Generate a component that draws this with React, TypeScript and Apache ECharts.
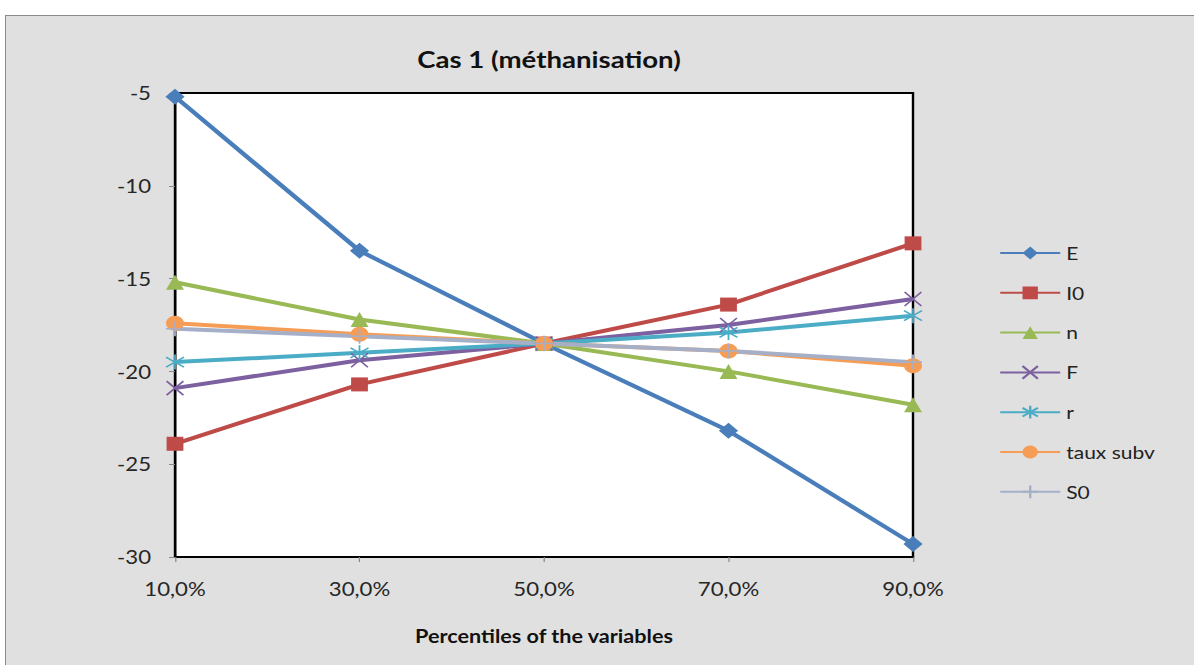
import React, { useEffect, useRef } from "react";
import * as echarts from "echarts";

const categories = ["10,0%", "30,0%", "50,0%", "70,0%", "90,0%"];
const seriesNames = ["E", "I0", "n", "F", "r", "taux subv", "S0"];
const valuesE = [-5.2, -13.5, -18.5, -23.2, -29.3];
const valuesI0 = [-23.9, -20.7, -18.5, -16.4, -13.1];
const valuesN = [-15.2, -17.2, -18.5, -20.0, -21.8];
const valuesF = [-20.9, -19.4, -18.5, -17.5, -16.1];
const valuesR = [-19.5, -19.0, -18.5, -17.9, -17.0];
const valuesTaux = [-17.4, -18.0, -18.5, -18.9, -19.7];
const valuesS0 = [-17.7, -18.1, -18.5, -18.9, -19.5];

const FONT = "Lato, 'DejaVu Sans', sans-serif";
// the reference picture is stretched horizontally; draw narrower and stretch back
const K = 1.2;
const W = 1194 / K;

export default function App() {
  const ref = useRef<HTMLDivElement>(null);
  useEffect(() => {
    if (!ref.current) return;
    const chart = echarts.init(ref.current, null, { renderer: "svg" });
    const defs = [
      { name: seriesNames[0], data: valuesE, color: "#4A7EBB", symbol: "diamond", size: 16, stroke: false },
      { name: seriesNames[1], data: valuesI0, color: "#BE4B48", symbol: "rect", size: 14, stroke: false },
      { name: seriesNames[2], data: valuesN, color: "#98B954", symbol: "triangle", size: 15, stroke: false },
      { name: seriesNames[3], data: valuesF, color: "#7D60A0", symbol: "path://M0,0L10,10M10,0L0,10", size: 14, stroke: true },
      { name: seriesNames[4], data: valuesR, color: "#4BACC6", symbol: "path://M0,1L10,9M10,1L0,9M5,-1L5,11", size: 15, stroke: true },
      { name: seriesNames[5], data: valuesTaux, color: "#F59D56", symbol: "circle", size: 15, stroke: false },
      { name: seriesNames[6], data: valuesS0, color: "#A5B0C8", symbol: "path://M5,0L5,10M0,5L10,5", size: 15, stroke: true },
    ];
    chart.setOption({
      animation: false,
      textStyle: { fontFamily: FONT },
      title: {
        text: "Cas 1 (méthanisation)",
        left: 543 / K,
        textAlign: "center",
        top: 42,
        textStyle: { fontFamily: FONT, fontSize: 23, fontWeight: "bold", color: "#111" },
      },
      legend: {
        orient: "vertical",
        left: 993 / K,
        top: 239,
        itemWidth: 60 / K,
        itemHeight: 16,
        itemGap: 21.8,
        textStyle: { fontFamily: FONT, fontSize: 17.5, color: "#222", lineHeight: 16 },
        data: seriesNames,
      },
      grid: {
        left: 175 / K,
        top: 93,
        width: 738 / K,
        height: 464,
        show: true,
        backgroundColor: "#FFFFFF",
        borderColor: "#000",
        borderWidth: 2,
      },
      xAxis: {
        type: "category",
        data: categories,
        boundaryGap: false,
        axisLine: { lineStyle: { color: "#000", width: 2 } },
        axisTick: { show: true, inside: false, length: 5, lineStyle: { color: "#888" } },
        axisLabel: { margin: 22, fontSize: 18.5, color: "#262626", fontFamily: FONT },
        splitLine: { show: false },
        name: "Percentiles of the variables",
        nameLocation: "middle",
        nameGap: 70,
        nameTextStyle: { fontFamily: FONT, fontSize: 18, fontWeight: "bold", color: "#111" },
      },
      yAxis: {
        type: "value",
        min: -30,
        max: -5,
        interval: 5,
        axisLine: { show: true, lineStyle: { color: "#000", width: 2 } },
        axisTick: { show: true, inside: false, length: 5, lineStyle: { color: "#888" } },
        axisLabel: { margin: 20, fontSize: 18.5, color: "#262626", fontFamily: FONT },
        splitLine: { show: false },
      },
      series: defs.map((d) => ({
        type: "line",
        name: d.name,
        data: d.data,
        symbol: d.symbol,
        symbolSize: d.size,
        showSymbol: true,
        lineStyle: { color: d.color, width: 4 },
        itemStyle: d.stroke
          ? { color: d.color, borderColor: d.color, borderWidth: 1.5 }
          : { color: d.color, borderColor: d.color, borderWidth: 0 },
        emphasis: { disabled: true },
      })),
    });
    return () => chart.dispose();
  }, []);
  return (
    <div style={{ position: "fixed", left: 0, top: 0, width: 1194, height: 665, background: "#fff", overflow: "hidden" }}>
      <div
        style={{
          position: "absolute",
          left: 5,
          top: 15,
          width: 1189,
          height: 650,
          background: "#E0E0E0",
          borderTop: "1px solid #8A8A8A",
          borderLeft: "1px solid #8A8A8A",
          boxSizing: "border-box",
        }}
      />
      <div
        ref={ref}
        style={{
          position: "absolute",
          left: 0,
          top: 0,
          width: W,
          height: 665,
          transform: `scaleX(${K})`,
          transformOrigin: "0 0",
        }}
      />
    </div>
  );
}
